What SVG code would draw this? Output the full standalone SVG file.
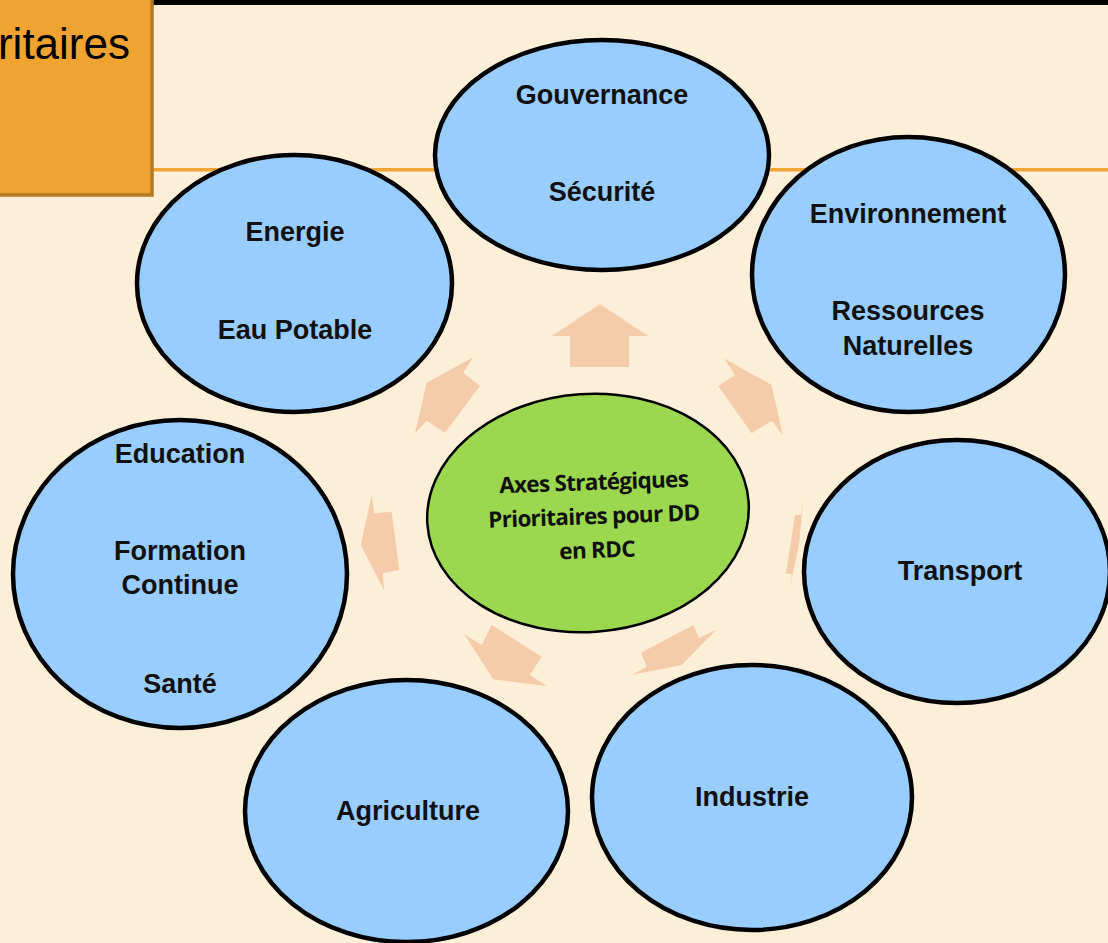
<svg xmlns="http://www.w3.org/2000/svg" width="1108" height="943" viewBox="0 0 1108 943">
<style>
.node{fill:#99CCFF;stroke:#000;stroke-width:4.5}
.lbl{font-family:"Liberation Sans","Noto Sans",sans-serif;font-weight:bold;font-size:27px;fill:#111;text-anchor:middle}
.ctr{font-family:"Open Sans","Liberation Sans",sans-serif;font-weight:bold;font-size:22.5px;fill:#111;text-anchor:middle;letter-spacing:-0.7px}
.arr{fill:#F5CCAA}
</style>
<rect x="0" y="0" width="1108" height="943" fill="#FCEFD8"/>
<rect x="0" y="0" width="1108" height="5" fill="#000"/>
<rect x="153" y="168" width="955" height="3.5" fill="#F0A535"/>
<g id="header">
<rect x="-4" y="-4" width="156" height="199" fill="#EFA330" stroke="#B47A22" stroke-width="3.5"/>
<text x="130" y="59" font-family="Liberation Sans,Arial,sans-serif" font-size="44" fill="#000" text-anchor="end">ritaires</text>
</g>
<g id="connectors">
<polygon class="arr" points="600,304 648,336 629,336 629,367 570,367 570,336 552,336"/>
<polygon class="arr" points="473.3,357.3 463.3,372.7 480,386 445,432.7 426.7,420.7 415,433.3 426.7,382.7"/>
<polygon class="arr" points="724,358.3 735,375 718.3,386 751.7,433.3 771.7,420.7 782.7,435 771.7,385"/>
<polygon class="arr" points="371.7,495 374.3,513.3 391.7,511.7 399.3,570 382.7,573.3 384.3,590.7 360.7,545"/>
<polygon class="arr" points="803.3,498.3 801,515 795,515 786,573.3 792,574 789.3,590 799,545"/>
<polygon class="arr" points="464,634 481.7,645 491.7,625 541.7,656.7 530,675 546.7,686 493.3,679.3"/>
<polygon class="arr" points="716.7,629.3 699,638.3 693.3,625 641,652.7 646.7,666.7 631.7,675 681.7,665"/>
</g>
<g id="center">
<ellipse cx="588" cy="513" rx="161" ry="119" fill="#9BD74F" stroke="#000" stroke-width="2.5" transform="rotate(-4 588 513)"/>
<g transform="rotate(-2 594 520)">
<text class="ctr" x="595" y="490">Axes Stratégiques</text>
<text class="ctr" x="594" y="524">Prioritaires pour DD</text>
<text class="ctr" x="596" y="558">en RDC</text>
</g>
</g>
<g id="gouvernance">
<ellipse class="node" cx="602" cy="155" rx="167" ry="115"/>
<text class="lbl" x="602" y="104">Gouvernance</text>
<text class="lbl" x="602" y="201">Sécurité</text>
</g>
<g id="energie">
<ellipse class="node" cx="294.5" cy="283.5" rx="157.5" ry="128.5"/>
<text class="lbl" x="295" y="241">Energie</text>
<text class="lbl" x="295" y="339">Eau Potable</text>
</g>
<g id="environnement">
<ellipse class="node" cx="908.5" cy="274.5" rx="156.5" ry="137.5"/>
<text class="lbl" x="908" y="223">Environnement</text>
<text class="lbl" x="908" y="320">Ressources</text>
<text class="lbl" x="908" y="355">Naturelles</text>
</g>
<g id="education">
<ellipse class="node" cx="180" cy="574" rx="167" ry="154"/>
<text class="lbl" x="180" y="463">Education</text>
<text class="lbl" x="180" y="560">Formation</text>
<text class="lbl" x="180" y="594">Continue</text>
<text class="lbl" x="180" y="693">Santé</text>
</g>
<g id="transport">
<ellipse class="node" cx="957" cy="571.5" rx="153" ry="131.5"/>
<text class="lbl" x="960" y="580">Transport</text>
</g>
<g id="agriculture">
<ellipse class="node" cx="406.5" cy="811" rx="161.5" ry="131"/>
<text class="lbl" x="408" y="820">Agriculture</text>
</g>
<g id="industrie">
<ellipse class="node" cx="752" cy="797.5" rx="160" ry="132.5"/>
<text class="lbl" x="752" y="806">Industrie</text>
</g>
</svg>
